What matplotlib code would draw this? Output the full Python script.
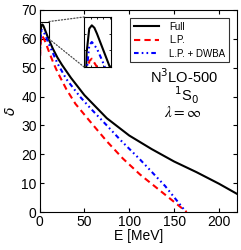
import numpy as np
import matplotlib
matplotlib.use('Agg')
import matplotlib.pyplot as plt
from matplotlib.patches import Rectangle, ConnectionPatch

plt.rcParams['font.family'] = ['Liberation Sans', 'DejaVu Sans']
plt.rcParams['mathtext.fontset'] = 'dejavusans'

# full phase shift
e_full = [0, 0.05, 0.2, 0.5, 1, 2, 3, 4, 5, 7, 10, 15, 20, 25, 35, 50,
          75, 100, 125, 150, 175, 200, 220]
d_full = [0, 25, 45, 56, 61.8, 64.6, 65.0, 64.7, 64.0, 62.4, 60.0, 56.5,
          53.5, 51.0, 46.5, 40.5, 32.5, 26.5, 21.8, 17.5, 13.8, 9.8, 6.3]

# leading perturbative
e_lp = [0, 0.05, 0.2, 0.5, 1, 2, 3, 5, 7, 10, 15, 20, 30, 40, 56, 75,
        93, 112, 140, 164]
d_lp = [0, 22, 41, 52, 57.8, 60.7, 61.0, 60.0, 58.5, 56.0, 52.0, 48.5,
        42.5, 37.5, 31.5, 24.5, 18.5, 13.0, 6.0, 0.0]

# leading perturbative + DWBA
e_dw = [0, 0.05, 0.2, 0.5, 1, 2, 3, 5, 7, 10, 15, 20, 30, 45, 56, 75,
        90, 112, 140, 162]
d_dw = [0, 23, 43, 54, 59.5, 62.6, 63.0, 62.2, 60.8, 58.5, 55.0, 51.5,
        46.0, 40.0, 36.2, 30.0, 25.0, 18.2, 9.0, 0.5]

labels = ['Full', 'L.P.', 'L.P. + DWBA']
dash_lp = (0, (3, 2))
dash_dw = (0, (2.2, 1.5, 0.8, 1.5, 0.8, 1.5))

fig = plt.figure(figsize=(2.41, 2.5), dpi=100)
ax = fig.add_axes([0.164, 0.152, 0.819, 0.808])

ax.plot(e_full, d_full, color='black', lw=1.5, label=labels[0])
ax.plot(e_lp, d_lp, color='red', lw=1.5, ls=dash_lp, label=labels[1])
ax.plot(e_dw, d_dw, color='blue', lw=1.5, ls=dash_dw, label=labels[2])

ax.set_xlim(0, 220)
ax.set_ylim(0, 70)
ax.set_xticks([0, 50, 100, 150, 200])
ax.set_yticks(range(0, 71, 10))
ax.tick_params(direction='in', top=True, right=True, labelsize=10,
               length=3, pad=2)
ax.set_xlabel('E [MeV]', fontsize=10, labelpad=0)
ax.set_ylabel(r'$\delta$', fontsize=10, labelpad=2,
              fontfamily='DejaVu Serif')

leg = ax.legend(loc='upper right', fontsize=7, frameon=True, fancybox=False,
                edgecolor='black', handlelength=2.6, borderpad=0.4,
                labelspacing=0.35, handletextpad=1.0,
                bbox_to_anchor=(0.985, 0.985))
leg.get_frame().set_linewidth(0.8)

ax.text(0.73, 0.672, r'N$^3$LO-500', transform=ax.transAxes, ha='center',
        va='center', fontsize=10.5)
ax.text(0.745, 0.58, r'$^1$S$_0$', transform=ax.transAxes, ha='center',
        va='center', fontsize=10.5)
ax.text(0.725, 0.492, r'$\lambda = \infty$', transform=ax.transAxes,
        ha='center', va='center', fontsize=11, math_fontfamily='stix')

# zoom box and inset
x0, x1, y0, y1 = 0, 10.5, 60, 66
ax.add_patch(Rectangle((x0, y0), x1 - x0, y1 - y0, fill=False,
                       edgecolor='black', lw=0.8))

axin = fig.add_axes([0.349, 0.732, 0.112, 0.2])
axin.plot(e_full, d_full, color='black', lw=1.5)
axin.plot(e_lp, d_lp, color='red', lw=1.5, ls=dash_lp)
axin.plot(e_dw, d_dw, color='blue', lw=1.5, ls=dash_dw)
axin.set_xlim(x0, x1)
axin.set_ylim(y0, y1)
axin.set_xticks([0, 2.5, 5, 7.5, 10])
axin.set_yticks([60, 62, 64, 66])
axin.tick_params(direction='in', top=True, right=True, labelbottom=False,
                 labelleft=False, length=1.5, width=0.6)

for a, b in [((x1, y1), (0, 1)), ((x1, y0), (0, 0))]:
    con = ConnectionPatch(xyA=a, coordsA=ax.transData, xyB=b,
                          coordsB=axin.transAxes, ls=(0, (1, 1.5)),
                          color='0.3', lw=0.9)
    fig.add_artist(con)

fig.savefig('out.png', dpi=100)
